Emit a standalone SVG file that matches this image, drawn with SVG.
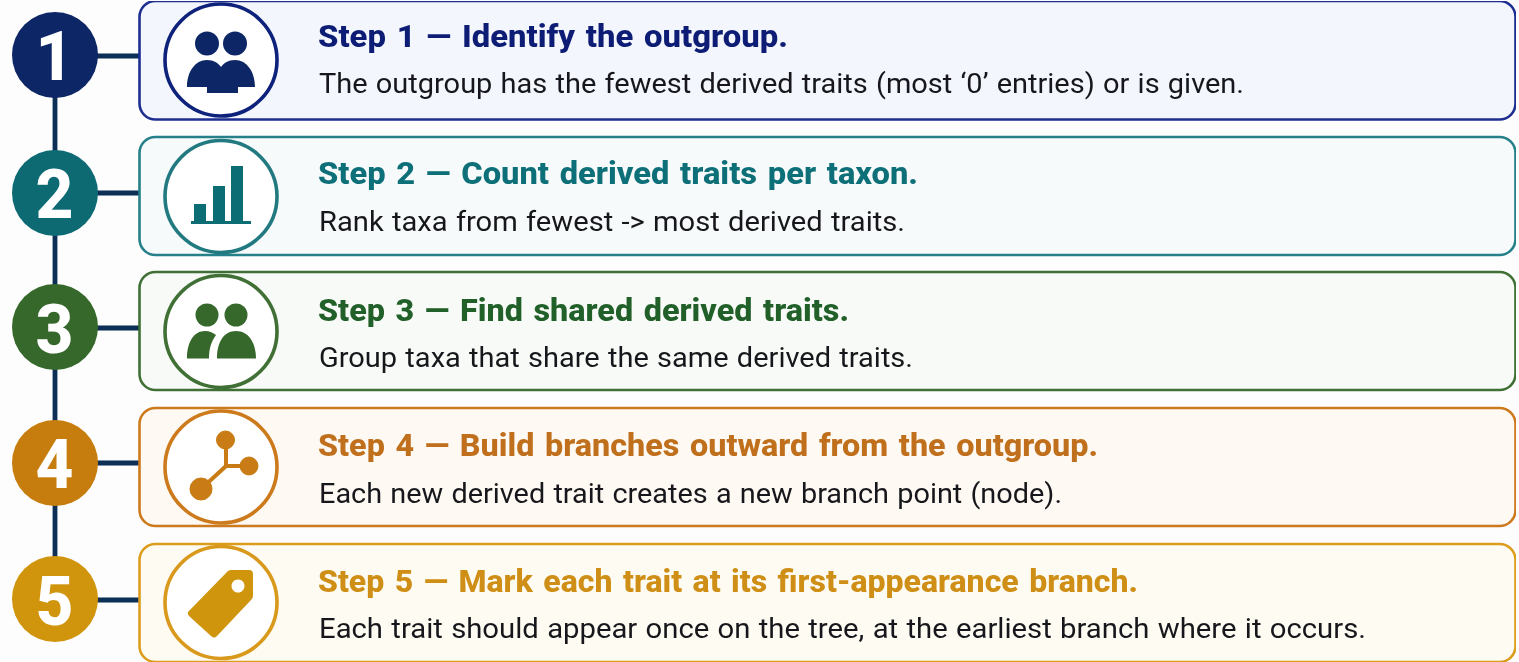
<svg xmlns="http://www.w3.org/2000/svg" width="1519" height="662" viewBox="0 0 1519 662">
<style>
.card{stroke-width:2.6}
.ring{fill:#fff;stroke-width:3.6}
.title{font:800 32px Roboto,"Liberation Sans",sans-serif;word-spacing:2.500px}
.body{font:27.500px Roboto,"Liberation Sans",sans-serif;fill:#17191b;word-spacing:1px}
.num{font:800 68px Roboto,"Liberation Sans",sans-serif;fill:#fff;text-anchor:middle}
.conn{stroke:#0b2f55;stroke-width:4.800;fill:none}
</style>
<defs><filter id="soft" x="0" y="0" width="100%" height="100%"><feGaussianBlur stdDeviation="0.550"/></filter></defs>
<rect width="1519" height="662" fill="#fdfdfd"/>
<g filter="url(#soft)">
<g id="connectors">
<path class="conn" d="M55 90V570M92 56H140M92 193H140M92 328H140M92 463H140M92 600H140"/>
</g>
<g id="step1">
<rect class="card" x="139.500" y="1" width="1376" height="118.500" rx="16" fill="#f3f6fd" stroke="#1f2f8f"/>
<circle cx="55" cy="55" r="43" fill="#0c2566"/>
<text class="num" x="54.500" y="80" textLength="38" lengthAdjust="spacingAndGlyphs">1</text>
<circle class="ring" cx="221" cy="60" r="56" stroke="#10207a"/>
<g fill="#0c2566"><circle cx="207" cy="43.500" r="12"/><circle cx="235" cy="43.500" r="12"/>
<path d="M187 87C187 72 195 60 207 60C214 60 218 63 221 67C224 63 228 60 235 60C247 60 255 72 255 87H238V93H207V87Z"/></g>
<text class="title" x="318" y="47" fill="#0f1f75" textLength="470" lengthAdjust="spacingAndGlyphs">Step 1 — Identify the outgroup.</text>
<text class="body" x="319" y="93" textLength="925" lengthAdjust="spacingAndGlyphs">The outgroup has the fewest derived traits (most ‘0’ entries) or is given.</text>
</g>
<g id="step2">
<rect class="card" x="139.500" y="137" width="1376" height="118" rx="16" fill="#f7fafb" stroke="#25808a"/>
<circle cx="55" cy="193" r="43" fill="#0b6a73"/>
<text class="num" x="54.500" y="218" textLength="38" lengthAdjust="spacingAndGlyphs">2</text>
<circle class="ring" cx="221" cy="196.500" r="56" stroke="#207a80"/>
<g fill="#0e6d75"><rect x="194" y="204" width="12" height="18"/><rect x="213" y="186" width="12" height="36"/><rect x="231" y="166" width="12" height="56"/><rect x="191" y="221" width="60" height="3"/></g>
<text class="title" x="318" y="184" fill="#0f6f78" textLength="600" lengthAdjust="spacingAndGlyphs">Step 2 — Count derived traits per taxon.</text>
<text class="body" x="319" y="231" textLength="586" lengthAdjust="spacingAndGlyphs">Rank taxa from fewest -&gt; most derived traits.</text>
</g>
<g id="step3">
<rect class="card" x="139.500" y="272" width="1376" height="118" rx="16" fill="#f7faf6" stroke="#3f7034"/>
<circle cx="55" cy="327" r="43" fill="#36682c"/>
<text class="num" x="54.500" y="353" textLength="38" lengthAdjust="spacingAndGlyphs">3</text>
<circle class="ring" cx="221" cy="331.500" r="56" stroke="#3f7034"/>
<g fill="#36682c"><circle cx="207" cy="315" r="11.500"/><circle cx="236" cy="315" r="11.500"/>
<path d="M187 358.500C187 342 194 331 205 331C210 331 213 333 216 335C211 342 209 349 209 358.500ZM217 358.500C217 342 224 331 236 331C248 331 256 342 256 358.500Z"/></g>
<text class="title" x="318" y="321" fill="#22602a" textLength="531" lengthAdjust="spacingAndGlyphs">Step 3 — Find shared derived traits.</text>
<text class="body" x="319" y="367" textLength="594" lengthAdjust="spacingAndGlyphs">Group taxa that share the same derived traits.</text>
</g>
<g id="step4">
<rect class="card" x="139.500" y="408" width="1376" height="118" rx="16" fill="#fef9f3" stroke="#cc7a1c"/>
<circle cx="55" cy="463" r="43" fill="#c77d0a"/>
<text class="num" x="54.500" y="488" textLength="38" lengthAdjust="spacingAndGlyphs">4</text>
<circle class="ring" cx="221" cy="467" r="56" stroke="#cc7a1c"/>
<g fill="#c97c12" stroke="#c97c12"><path d="M226 441V466L201 489M226 466H249" fill="none" stroke-width="4"/><circle cx="225.500" cy="440" r="9"/><circle cx="249" cy="466" r="9"/><circle cx="201" cy="489" r="11"/></g>
<text class="title" x="318" y="456" fill="#c0701a" textLength="780" lengthAdjust="spacingAndGlyphs">Step 4 — Build branches outward from the outgroup.</text>
<text class="body" x="319" y="503" textLength="743" lengthAdjust="spacingAndGlyphs">Each new derived trait creates a new branch point (node).</text>
</g>
<g id="step5">
<rect class="card" x="139.500" y="544" width="1376" height="118" rx="16" fill="#fefbf2" stroke="#dc9d1e"/>
<circle cx="55" cy="599" r="43" fill="#d0950b"/>
<text class="num" x="54.500" y="625" textLength="38" lengthAdjust="spacingAndGlyphs">5</text>
<circle class="ring" cx="221" cy="602.500" r="56" stroke="#d8991a"/>
<path fill="#cf950c" fill-rule="evenodd" d="M188 612L226 573Q228 570 231 570H249Q253 570 253 574V596Q253 598 251 600L217 636Q214 639 211 636L189 616Q187 614 188 612ZM238 579.500a6.500 6.500 0 1 0 .01 0Z"/>
<text class="title" x="318" y="592" fill="#cf8e14" textLength="820" lengthAdjust="spacingAndGlyphs">Step 5 — Mark each trait at its first-appearance branch.</text>
<text class="body" x="319" y="638" textLength="1047" lengthAdjust="spacingAndGlyphs">Each trait should appear once on the tree, at the earliest branch where it occurs.</text>
</g>
</g>
</svg>
